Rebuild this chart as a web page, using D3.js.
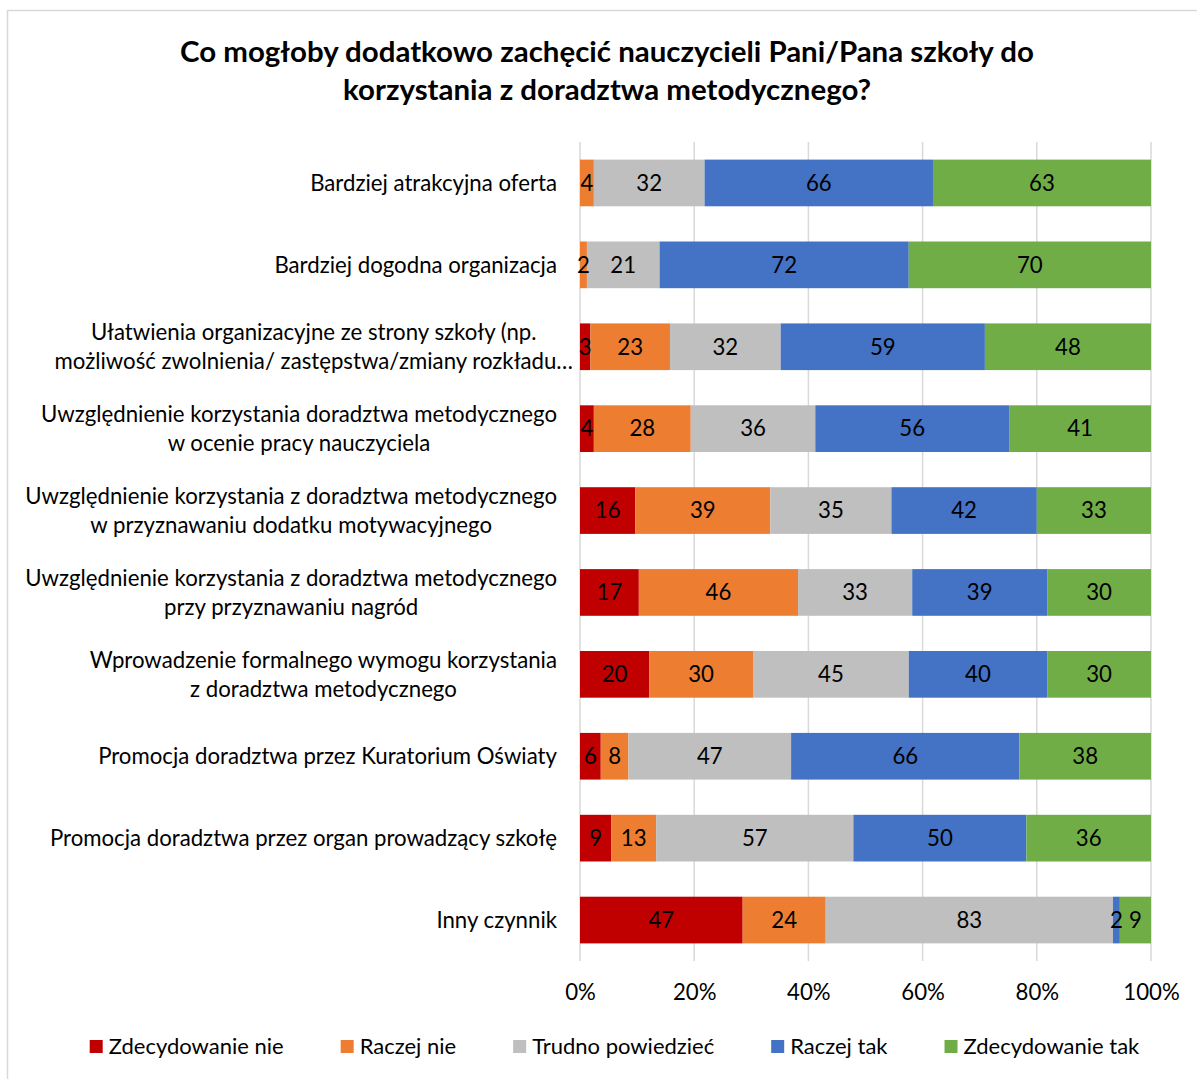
<!DOCTYPE html>
<html>
<head>
<meta charset="utf-8">
<script src="https://cdn.jsdelivr.net/npm/d3@7"></script>
<style>
  html, body { margin: 0; padding: 0; background: #fff; }
  svg { display: block; }
</style>
</head>
<body>
<svg id="chart" width="1197" height="1079"></svg>
<script>
// ---------- DATA ----------
const titleLines = [
  "Co mogłoby dodatkowo zachęcić nauczycieli Pani/Pana szkoły do",
  "korzystania z doradztwa metodycznego?"
];
const categories = [
  ["Bardziej atrakcyjna oferta"],
  ["Bardziej dogodna organizacja"],
  ["Ułatwienia organizacyjne ze strony szkoły (np.", "możliwość zwolnienia/ zastępstwa/zmiany rozkładu…"],
  ["Uwzględnienie korzystania doradztwa metodycznego", "w ocenie pracy nauczyciela"],
  ["Uwzględnienie korzystania z doradztwa metodycznego", "w przyznawaniu dodatku motywacyjnego"],
  ["Uwzględnienie korzystania z doradztwa metodycznego", "przy przyznawaniu nagród"],
  ["Wprowadzenie formalnego wymogu korzystania", "z doradztwa metodycznego"],
  ["Promocja doradztwa przez Kuratorium Oświaty"],
  ["Promocja doradztwa przez organ prowadzący szkołę"],
  ["Inny czynnik"]
];
const seriesNames = ["Zdecydowanie nie", "Raczej nie", "Trudno powiedzieć", "Raczej tak", "Zdecydowanie tak"];
const zdecydowanieNie = [0, 0, 3, 4, 16, 17, 20, 6, 9, 47];
const raczejNie       = [4, 2, 23, 28, 39, 46, 30, 8, 13, 24];
const trudnoPowiedziec= [32, 21, 32, 36, 35, 33, 45, 47, 57, 83];
const raczejTak       = [66, 72, 59, 56, 42, 39, 40, 66, 50, 2];
const zdecydowanieTak = [63, 70, 48, 41, 33, 30, 30, 38, 36, 9];
const tickValues = [0, 0.2, 0.4, 0.6, 0.8, 1.0];
const colors = ["#C00000", "#ED7D31", "#BFBFBF", "#4472C4", "#70AD47"];

// ---------- LAYOUT ----------
const FONT = "Lato, 'Open Sans', sans-serif";
const svg = d3.select("#chart");

// measure helper
function measure(text, size, weight) {
  const t = svg.append("text").attr("font-family", FONT).attr("font-size", size)
    .attr("font-weight", weight || "normal").text(text);
  const w = t.node().getComputedTextLength();
  t.remove();
  return w;
}
function fit(text, target, weight) {
  return 20 * target / measure(text, 20, weight);
}
const labelSize = fit("Uwzględnienie korzystania z doradztwa metodycznego", 532);
const legendSize = fit("Zdecydowanie nie", 175);
const titleSize = fit(titleLines[0], 854, "bold");

// border
svg.append("rect").attr("x", 7.5).attr("y", 10.5).attr("width", 1300).attr("height", 1200)
  .attr("fill", "none").attr("stroke", "#d9d9d9").attr("stroke-width", 1.5);

// title
svg.append("g").selectAll("text").data(titleLines).join("text")
  .attr("x", 607).attr("y", (d, i) => 62 + i * 38)
  .attr("text-anchor", "middle")
  .attr("font-family", FONT).attr("font-weight", "bold").attr("font-size", titleSize)
  .attr("fill", "#000").text(d => d);

const rows = categories.map((c, i) => ({
  idx: i, label: c,
  vals: [zdecydowanieNie[i], raczejNie[i], trudnoPowiedziec[i], raczejTak[i], zdecydowanieTak[i]]
}));

const x = d3.scaleLinear().domain([0, 1]).range([580, 1151]);
const y = d3.scaleBand().domain(d3.range(categories.length)).range([142, 961]).paddingInner(0.43).paddingOuter(0.215);

// gridlines
svg.append("g").selectAll("line").data(tickValues).join("line")
  .attr("x1", d => x(d)).attr("x2", d => x(d))
  .attr("y1", 142).attr("y2", 961)
  .attr("stroke", "#d9d9d9").attr("stroke-width", 1.5);

// x axis labels
const xAxis = d3.axisBottom(x).tickValues(tickValues).tickFormat(d3.format(".0%")).tickSize(0).tickPadding(0);
const ax = svg.append("g").attr("transform", "translate(0,1000)").call(xAxis);
ax.select(".domain").remove();
ax.selectAll("text").attr("font-family", FONT).attr("font-size", labelSize).attr("fill", "#000").attr("dy", 0);

// stacked segments
const segs = [];
rows.forEach(r => {
  const total = d3.sum(r.vals);
  let cum = 0;
  r.vals.forEach((v, k) => {
    segs.push({ row: r.idx, k, v, x0: cum / total, x1: (cum + v) / total });
    cum += v;
  });
});
const barG = svg.append("g");
barG.selectAll("rect").data(segs.filter(s => s.v > 0)).join("rect")
  .attr("x", d => x(d.x0)).attr("width", d => x(d.x1) - x(d.x0))
  .attr("y", d => y(d.row)).attr("height", y.bandwidth())
  .attr("fill", d => colors[d.k]);
barG.selectAll("text").data(segs.filter(s => s.v > 0)).join("text")
  .attr("x", d => (x(d.x0) + x(d.x1)) / 2)
  .attr("y", d => y(d.row) + y.bandwidth() / 2)
  .attr("dy", "0.35em").attr("text-anchor", "middle")
  .attr("font-family", FONT).attr("font-size", labelSize).attr("fill", "#000")
  .text(d => d.v);

// category labels
const catG = svg.append("g");
rows.forEach(r => {
  const widths = r.label.map(l => measure(l, labelSize));
  const bw = d3.max(widths);
  let right = 557;
  if (r.label[r.label.length - 1].endsWith("…")) right = 573;
  const cx = right - bw / 2;
  const cy = y(r.idx) + y.bandwidth() / 2;
  const lh = 29;
  const n = r.label.length;
  r.label.forEach((l, j) => {
    catG.append("text")
      .attr("x", cx).attr("y", cy + (j - (n - 1) / 2) * lh)
      .attr("dy", "0.35em").attr("text-anchor", "middle")
      .attr("font-family", FONT).attr("font-size", labelSize).attr("fill", "#000")
      .text(l);
  });
});

// legend
const gap = 57, sq = 13, tgap = 6;
const itemW = seriesNames.map(s => sq + tgap + measure(s, legendSize));
const totalW = d3.sum(itemW) + gap * (seriesNames.length - 1);
let lx = 614.5 - totalW / 2;
const legG = svg.append("g");
seriesNames.forEach((s, i) => {
  legG.append("rect").attr("x", lx).attr("y", 1040).attr("width", sq).attr("height", sq).attr("fill", colors[i]);
  legG.append("text").attr("x", lx + sq + tgap).attr("y", 1054)
    .attr("font-family", FONT).attr("font-size", legendSize).attr("fill", "#000").text(s);
  lx += itemW[i] + gap;
});
</script>
</body>
</html>
